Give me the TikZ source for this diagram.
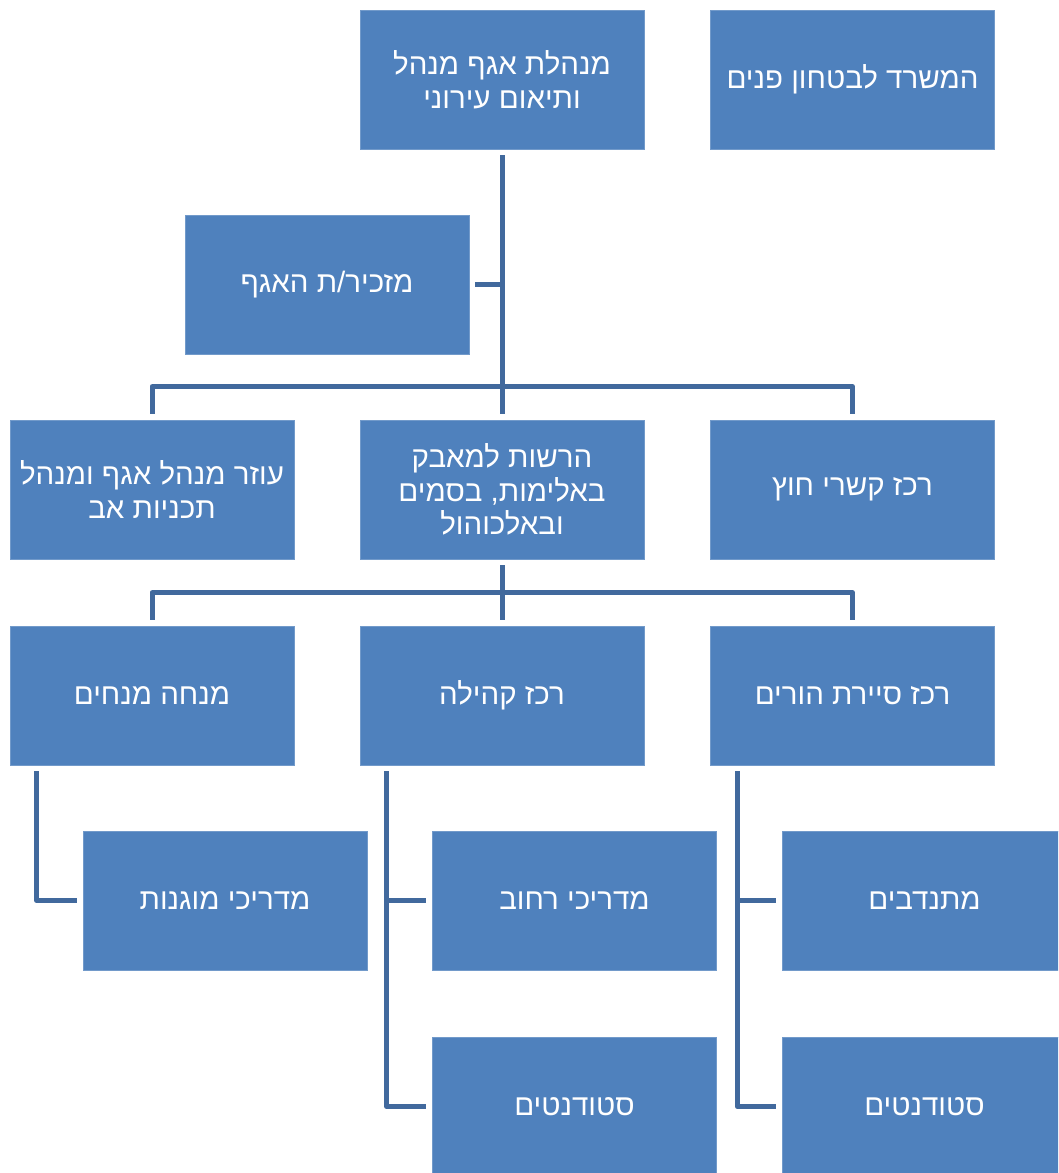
\documentclass[tikz,border=0pt]{standalone}
\usepackage{fontspec}
\newfontfamily\hebfont[Script=Hebrew]{Liberation Sans}
\TeXXeTstate=1
\definecolor{boxblue}{HTML}{4F81BD}
\definecolor{linkblue}{HTML}{41699D}
\newcommand{\rl}[1]{\beginR #1\endR}
\tikzset{
  unit/.style={fill=boxblue, draw=boxblue!80!white, line width=0.6pt,
    minimum width=284pt, minimum height=139pt, inner sep=0pt,
    text=white, align=center,
    font=\hebfont\fontsize{29.5}{33.5}\selectfont},
  conn/.style={draw=linkblue, line width=5pt, line join=round}
}
\begin{document}
\begin{tikzpicture}[x=1pt,y=1pt]
\clip (0,0) rectangle (1058,-1173);
\fill[white] (0,0) rectangle (1058,-1173);

% top row
\node[unit] (dir)  at (502,-79.5)  {\rl{מנהלת אגף מנהל}\\\rl{ותיאום עירוני}};
\node[unit] (min)  at (852.5,-79.5) {\rl{המשרד לבטחון פנים}};
\node[unit] (sec)  at (327,-284.5) {\rl{מזכיר/ת האגף}};

% second row
\node[unit] (asst) at (152,-489.5)  {\rl{עוזר מנהל אגף ומנהל}\\\rl{תכניות אב}};
\node[unit] (auth) at (502,-489.5)  {\rl{הרשות למאבק}\\\rl{באלימות, בסמים}\\\rl{ובאלכוהול}};
\node[unit] (ext)  at (852.5,-489.5) {\rl{רכז קשרי חוץ}};

% third row
\node[unit] (ment) at (152,-695.5)  {\rl{מנחה מנחים}};
\node[unit] (comm) at (502,-695.5)  {\rl{רכז קהילה}};
\node[unit] (par)  at (852.5,-695.5) {\rl{רכז סיירת הורים}};

% fourth and fifth rows
\node[unit] (guid) at (225,-900.5)  {\rl{מדריכי מוגנות}};
\node[unit] (strt) at (574.5,-900.5) {\rl{מדריכי רחוב}};
\node[unit] (vol)  at (924.5,-900.5) {\rl{מתנדבים}};
\node[unit] (stA)  at (574.5,-1106.5) {\rl{סטודנטים}};
\node[unit] (stB)  at (924.5,-1106.5) {\rl{סטודנטים}};

% trunk from the director down to the second row
\draw[conn] ([yshift=-6]dir.south) -- ([yshift=6]auth.north);
\draw[conn] ([xshift=6]sec.east) -- (sec.east -| dir.south);
\draw[conn] ([yshift=6]asst.north) -- ++(0,27) -| ([yshift=6]ext.north);

% authority to the third row
\draw[conn] ([yshift=-6]auth.south) -- ([yshift=6]comm.north);
\draw[conn] ([yshift=6]ment.north) -- ++(0,27) -| ([yshift=6]par.north);

% side branches
\draw[conn] ([xshift=27,yshift=-6]ment.south west) |- ([xshift=-6]guid.west);
\draw[conn] ([xshift=27,yshift=-6]comm.south west) |- ([xshift=-6]stA.west);
\draw[conn] ([xshift=27]comm.south west |- strt.west) -- ([xshift=-6]strt.west);
\draw[conn] ([xshift=27,yshift=-6]par.south west) |- ([xshift=-6]stB.west);
\draw[conn] ([xshift=27]par.south west |- vol.west) -- ([xshift=-6]vol.west);
\end{tikzpicture}
\end{document}
